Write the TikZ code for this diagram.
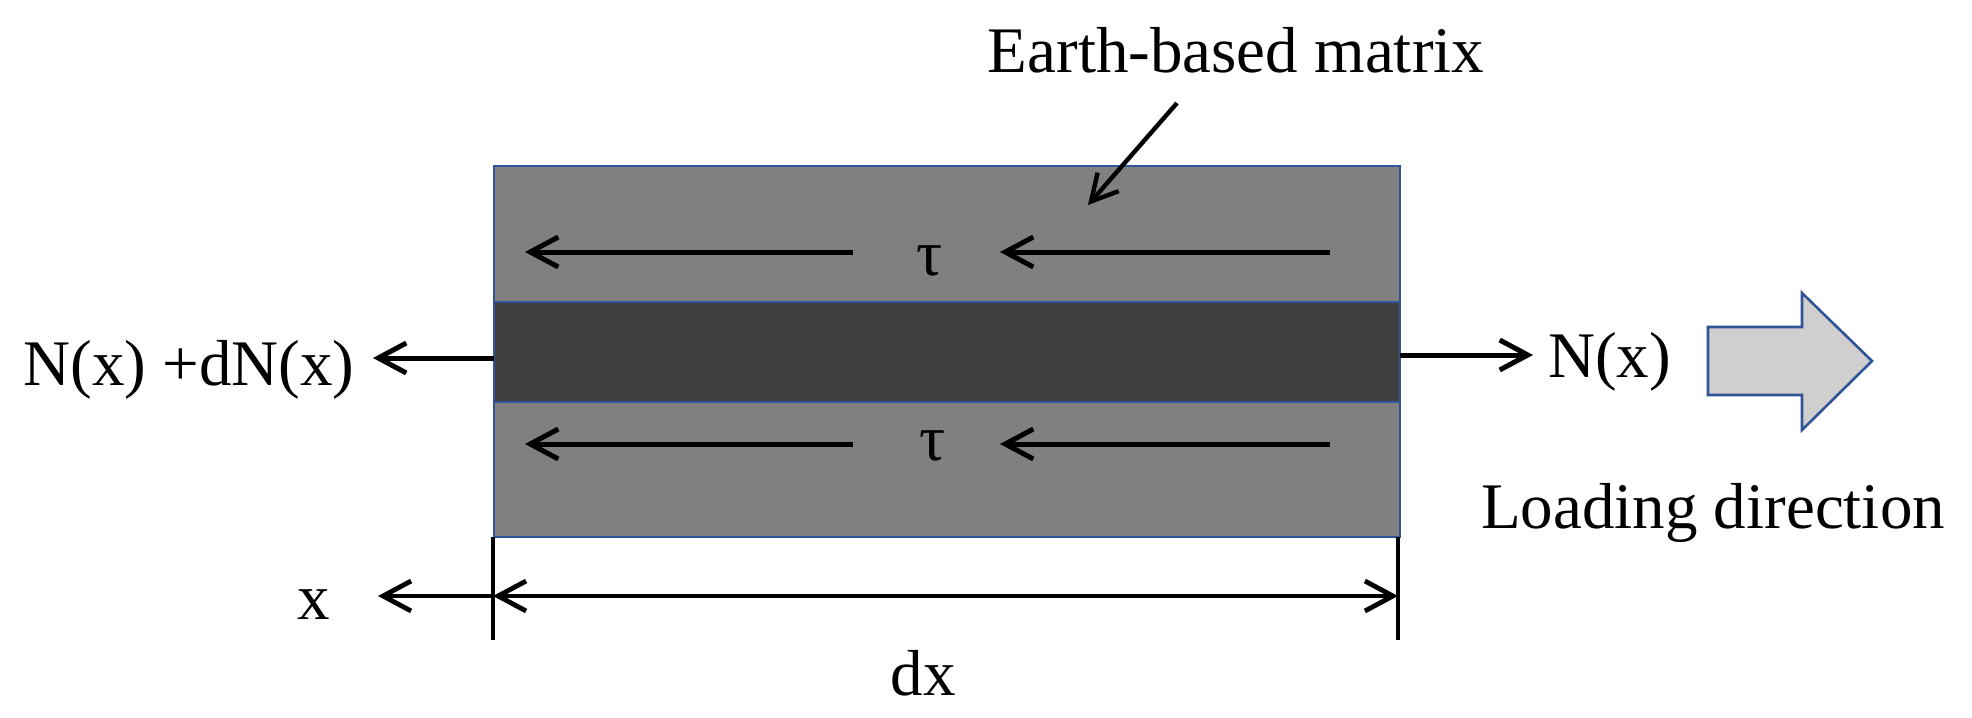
\documentclass[tikz,border=0pt]{standalone}
\usepackage{fontspec}
\setmainfont{Liberation Serif}
\usetikzlibrary{arrows.meta}
\definecolor{matrixgray}{HTML}{808080}
\definecolor{coregray}{HTML}{404040}
\definecolor{edgeblue}{HTML}{2F5597}
\definecolor{loadfill}{HTML}{D0CECE}
\begin{document}
\begin{tikzpicture}[x=0.5pt,y=-0.5pt,
  font=\fontsize{32.5}{39}\selectfont,
  lbl/.style={inner sep=0pt, anchor=base},
  force/.style={line width=2.5pt, -{Straight Barb[length=14pt,width=15pt]}},
  dimarrow/.style={line width=2.4pt, -{Straight Barb[length=14pt,width=15pt]}},
  dimboth/.style={line width=2.4pt, {Straight Barb[length=14pt,width=15pt]}-{Straight Barb[length=14pt,width=15pt]}},
  tick/.style={line width=2.4pt},
  layer/.style={draw=edgeblue, line width=1.3pt}]
\useasboundingbox (0,0) rectangle (1972,718);

% specimen
\draw[layer, fill=matrixgray] (494,166) rectangle (1400,537);
\draw[layer, fill=coregray] (494,302) rectangle (1400,402);

% shear arrows and tau labels
\coordinate (uL1) at (853,252); \coordinate (uL2) at (525,252);
\coordinate (uR1) at (1330,252); \coordinate (uR2) at (1000,252);
\coordinate (lL1) at (853,444); \coordinate (lL2) at (525,444);
\coordinate (lR1) at (1330,444); \coordinate (lR2) at (1000,444);
\draw[force] (uL1) -- (uL2);
\draw[force] (uR1) -- (uR2);
\draw[force] (lL1) -- (lL2);
\draw[force] (lR1) -- (lR2);
\node[lbl] (tauU) at (930,275) {τ};
\node[lbl] (tauL) at (933,460) {τ};

% axial forces
\coordinate (lfS) at (494,358); \coordinate (lfE) at (373,358);
\coordinate (rfS) at (1400,355); \coordinate (rfE) at (1533,355);
\draw[force] (lfS) -- (lfE);
\draw[force] (rfS) -- (rfE);
\node[lbl, anchor=base east] (Nleft) at (355,385) {N(x) +dN(x)};
\node[lbl, anchor=base west] (Nright) at (1548,377) {N(x)};

% earth-based matrix label
\node[lbl] (em) at (1236,72) {Earth-based matrix};
\coordinate (emS) at (1177,103); \coordinate (emE) at (1088,205);
\draw[line width=2.2pt, -{Straight Barb[length=13pt,width=14pt]}] (emS) -- (emE);

% loading direction
\draw[draw=edgeblue, fill=loadfill, line width=1.3pt]
  (1708,327) -- (1802,327) -- (1802,293) -- (1872,361) -- (1802,430) -- (1802,395) -- (1708,395) -- cycle;
\node[lbl] (ld) at (1713,528) {Loading direction};

% dimensions
\coordinate (t1a) at (493,537); \coordinate (t1b) at (493,640);
\coordinate (t2a) at (1398,537); \coordinate (t2b) at (1398,640);
\draw[tick] (t1a) -- (t1b);
\draw[tick] (t2a) -- (t2b);
\coordinate (dxL) at (493,596); \coordinate (dxR) at (1398,596);
\coordinate (xE) at (378,596);
\draw[dimboth] (dxL) -- (dxR);
\draw[dimarrow] (dxL) -- (xE);
\node[lbl] (xl) at (314,619) {x};
\node[lbl] (dxl) at (923,695) {dx};
\end{tikzpicture}
\end{document}
